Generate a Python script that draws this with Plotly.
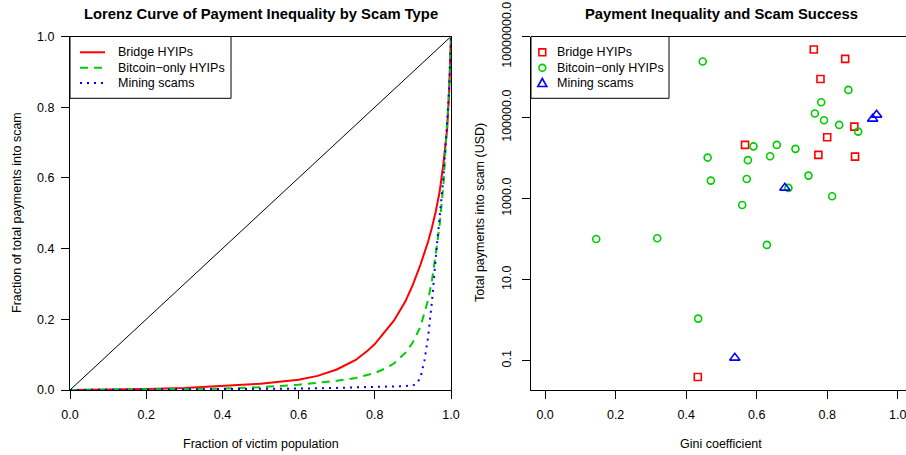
import plotly.graph_objects as go

# Lorenz curves: cumulative share of victims vs cumulative share of payments
bridge_x = [0, 0.1, 0.2, 0.3, 0.4, 0.5, 0.55, 0.6, 0.65, 0.7, 0.75, 0.78, 0.8, 0.83, 0.85, 0.88, 0.9,
            0.92, 0.94, 0.95, 0.96, 0.97, 0.98, 0.99, 0.995, 1.0]
bridge_y = [0, 0.001, 0.003, 0.006, 0.011, 0.018, 0.023, 0.029, 0.040, 0.058, 0.085, 0.110, 0.130, 0.168,
            0.196, 0.250, 0.298, 0.355, 0.420, 0.460, 0.505, 0.560, 0.640, 0.740, 0.840, 1.0]

btc_x = [0, 0.2, 0.4, 0.5, 0.6, 0.7, 0.75, 0.8, 0.83, 0.85, 0.88, 0.9, 0.92, 0.94, 0.95, 0.96, 0.97,
         0.98, 0.99, 0.995, 1.0]
btc_y = [0, 0.001, 0.004, 0.008, 0.015, 0.026, 0.034, 0.048, 0.062, 0.075, 0.105, 0.135, 0.180, 0.255,
         0.310, 0.385, 0.465, 0.580, 0.750, 0.850, 1.0]

mining_x = [0, 0.3, 0.5, 0.6, 0.7, 0.8, 0.88, 0.9, 0.91, 0.92, 0.93, 0.94, 0.95, 0.96, 0.97, 0.98,
            0.99, 0.995, 1.0]
mining_y = [0, 0.001, 0.003, 0.004, 0.006, 0.008, 0.011, 0.013, 0.018, 0.036, 0.082, 0.150, 0.250, 0.375,
            0.480, 0.600, 0.760, 0.850, 1.0]

# Gini coefficient and total payments (USD) per scam
bridge_gini = [0.762, 0.851, 0.781, 0.877, 0.800, 0.567, 0.775, 0.879, 0.433]
bridge_total = [4.78e6, 2.81e6, 9.0e5, 6.0e4, 3.27e4, 2.12e4, 1.2e4, 1.09e4, 0.0396]

btc_gini = [0.447, 0.860, 0.783, 0.765, 0.791, 0.834, 0.888, 0.591, 0.657, 0.710, 0.638, 0.461,
            0.575, 0.470, 0.572, 0.747, 0.690, 0.814, 0.559, 0.145, 0.318, 0.629, 0.434]
btc_total = [2.42e6, 4.83e5, 2.39e5, 1.26e5, 8.57e4, 6.61e4, 4.51e4, 1.95e4, 2.12e4, 1.69e4, 1.11e4, 1.03e4,
             8.9e3, 2.78e3, 3.06e3, 3.70e3, 1.84e3, 1.14e3, 698, 101, 105, 72, 1.09]

mining_gini = [0.680, 0.940, 0.929, 0.538]
mining_total = [1.84e3, 1.17e5, 9.3e4, 0.117]

series_names = ["Bridge HYIPs", "Bitcoin\u2212only HYIPs", "Mining scams"]
y_ticks = [0.1, 10, 1000, 1e5, 1e7]
y_tick_text = ["0.1", "10.0", "1000.0", "100000.0", "10000000.0"]
unit_ticks = [0, 0.2, 0.4, 0.6, 0.8, 1.0]

RED = "#FF0000"
GREEN = "#00CD00"
BLUE = "#0000FF"
COLORS = [RED, GREEN, BLUE]
DASHES = ["solid", "8px,6px", "2px,5px"]
FONT = "Liberation Sans, Arial, Helvetica, sans-serif"
FS = 12.5

W, H = 906, 455
def px(x):
    return x / W
def py(y):
    return (H - y) / H

fig = go.Figure()

# Left panel: line of equality plus the three Lorenz curves
fig.add_trace(go.Scatter(x=[0, 1], y=[0, 1], mode="lines", line=dict(color="black", width=1),
                         hoverinfo="skip", xaxis="x", yaxis="y"))
for xs, ys, name, col, dash in zip([bridge_x, btc_x, mining_x], [bridge_y, btc_y, mining_y],
                                   series_names, COLORS, DASHES):
    fig.add_trace(go.Scatter(x=xs, y=ys, mode="lines", name=name,
                             line=dict(color=col, width=2, dash=dash), xaxis="x", yaxis="y"))

# Right panel: Gini vs total payments
symbols = ["square-open", "circle-open", "triangle-up-open"]
sizes = [7, 7, 9]
for xs, ys, name, col, sym, sz in zip([bridge_gini, btc_gini, mining_gini],
                                      [bridge_total, btc_total, mining_total],
                                      series_names, COLORS, symbols, sizes):
    fig.add_trace(go.Scatter(x=xs, y=ys, mode="markers", name=name,
                             marker=dict(symbol=sym, size=sz, color=col, line=dict(width=1.6, color=col)),
                             xaxis="x2", yaxis="y2"))

top, bottom = 36.5, 390
axis_common = dict(showgrid=False, zeroline=False, showline=True, linecolor="black", linewidth=1,
                   ticks="outside", ticklen=8, tickcolor="black", tickwidth=1, automargin=False,
                   ticklabeloverflow="allow",
                   tickfont=dict(family=FONT, size=FS, color="black"))

shapes = [dict(type="line", xref="paper", yref="paper", x0=px(531), x1=1.0, y0=py(top), y1=py(top),
               line=dict(color="black", width=1))]
annotations = [
    dict(text="<b>Lorenz Curve of Payment Inequality by Scam Type</b>", x=px(260.5), y=py(14),
         font=dict(size=14.8)),
    dict(text="<b>Payment Inequality and Scam Success</b>", x=px(721), y=py(14), font=dict(size=14.8)),
    dict(text="Fraction of victim population", x=px(260.5), y=py(444)),
    dict(text="Gini coefficient", x=px(721), y=py(444)),
    dict(text="Fraction of total payments into scam", x=px(17), y=py(213), textangle=-90),
    dict(text="Total payments into scam (USD)", x=px(480), y=py(213), textangle=-90),
]

# Legend boxes, drawn as keys + labels in page coordinates
legend_rows = [52.3, 67.8, 83.0]
for x0, x1 in [(70, 231), (531, 669)]:
    shapes.append(dict(type="rect", xref="paper", yref="paper", x0=px(x0), x1=px(x1),
                       y0=py(98.3), y1=py(top), line=dict(color="black", width=1), fillcolor="white",
                       layer="above"))

for yy, col, dash, name in zip(legend_rows, COLORS, DASHES, series_names):
    shapes.append(dict(type="line", xref="paper", yref="paper", x0=px(80), x1=px(105),
                       y0=py(yy), y1=py(yy), line=dict(color=col, width=2, dash=dash), layer="above"))
    annotations.append(dict(text=name, x=px(115.5), y=py(yy), xanchor="left"))
    annotations.append(dict(text=name, x=px(554.5), y=py(yy), xanchor="left"))

cx = 542.3
r = 3.4
shapes.append(dict(type="rect", xref="paper", yref="paper", x0=px(cx - r), x1=px(cx + r),
                   y0=py(legend_rows[0] + r), y1=py(legend_rows[0] - r),
                   line=dict(color=RED, width=1.6), layer="above"))
shapes.append(dict(type="circle", xref="paper", yref="paper", x0=px(cx - r), x1=px(cx + r),
                   y0=py(legend_rows[1] + r), y1=py(legend_rows[1] - r),
                   line=dict(color=GREEN, width=1.6), layer="above"))
ty = legend_rows[2]
shapes.append(dict(type="path", xref="paper", yref="paper", layer="above",
                   path=f"M {px(cx - 4.5)} {py(ty + 3.5)} L {px(cx + 4.5)} {py(ty + 3.5)} "
                        f"L {px(cx)} {py(ty - 4.5)} Z",
                   line=dict(color=BLUE, width=1.6)))

for a in annotations:
    a.update(xref="paper", yref="paper", showarrow=False, yanchor="middle")
    a.setdefault("xanchor", "center")

fig.update_layout(
    template="none",
    width=W, height=H,
    margin=dict(l=0, r=0, t=0, b=0, autoexpand=False),
    paper_bgcolor="white", plot_bgcolor="white",
    showlegend=False,
    font=dict(family=FONT, size=FS, color="black"),
    xaxis=dict(domain=[px(70), px(451)], range=[0, 1], tickvals=unit_ticks, tickformat=".1f",
               mirror=True, anchor="y", ticklabelstandoff=5, **axis_common),
    yaxis=dict(domain=[py(bottom), py(top)], range=[0, 1], tickvals=unit_ticks, tickformat=".1f",
               mirror=True, anchor="x", ticklabelstandoff=4, **axis_common),
    xaxis2=dict(domain=[px(531), 1], range=[-0.04, 1.0235], tickvals=unit_ticks, tickformat=".1f",
                anchor="y2", ticklabelstandoff=5, **axis_common),
    yaxis2=dict(domain=[py(bottom), py(top)], type="log", range=[-1.725, 7.002],
                tickvals=y_ticks, ticktext=y_tick_text, tickangle=-90, anchor="x2",
                ticklabelstandoff=6, **axis_common),
    shapes=shapes,
    annotations=annotations,
)

fig.write_html("out.html")
